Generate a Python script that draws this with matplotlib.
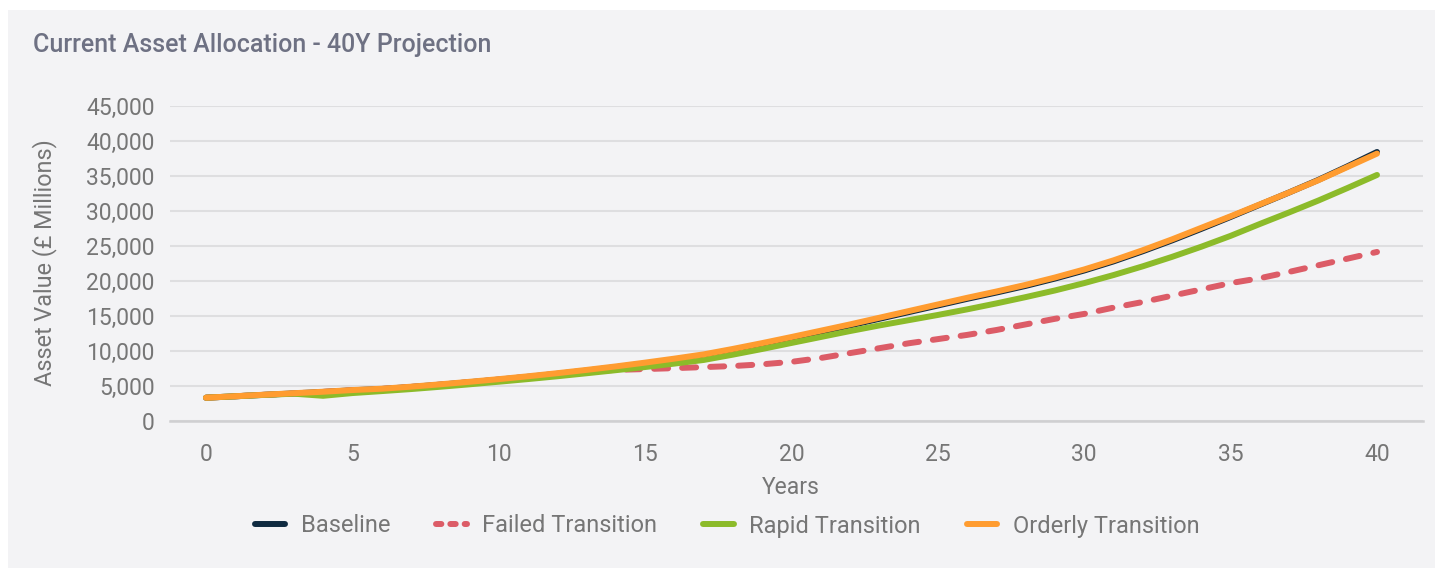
import matplotlib
matplotlib.use("Agg")
import matplotlib.pyplot as plt
from matplotlib.lines import Line2D
from matplotlib.patches import Rectangle
from matplotlib.ticker import FuncFormatter, MultipleLocator

plt.rcParams["font.family"] = ["Roboto", "DejaVu Sans"]

# Projection horizon (years) and asset values (£ millions) per scenario
years = list(range(41))

baseline = [3330, 3530, 3740, 3940, 4150, 4390, 4570, 4860, 5190, 5540,
            5910, 6310, 6740, 7200, 7690, 8210, 8770, 9370, 10150, 10980,
            11850, 12750, 13650, 14600, 15550, 16500, 17450, 18350, 19300, 20350,
            21500, 22800, 24250, 25800, 27450, 29150, 30900, 32650, 34450, 36400,
            38430]

failed = [3330, 3530, 3740, 3940, 4150, 4390, 4570, 4860, 5190, 5540,
          5910, 6310, 6740, 7100, 7300, 7420, 7550, 7700, 7850, 8100,
          8450, 9000, 9700, 10400, 11100, 11700, 12300, 13000, 13800, 14600,
          15300, 16200, 17000, 17900, 18800, 19700, 20400, 21300, 22250, 23200,
          24150]

rapid = [3330, 3530, 3730, 3900, 3600, 3990, 4270, 4560, 4890, 5240,
         5610, 5990, 6390, 6820, 7260, 7710, 8200, 8720, 9480, 10290,
         11150, 12000, 12850, 13650, 14400, 15150, 15950, 16800, 17700, 18650,
         19700, 20850, 22100, 23450, 24900, 26450, 28150, 29800, 31500, 33300,
         35150]

orderly = [3330, 3540, 3760, 3970, 4180, 4420, 4610, 4900, 5240, 5600,
           5980, 6390, 6830, 7300, 7800, 8340, 8910, 9520, 10300, 11130,
           12000, 12900, 13800, 14750, 15700, 16650, 17600, 18500, 19450, 20500,
           21650, 22950, 24400, 25950, 27600, 29250, 30950, 32650, 34400, 36300,
           38200]

series_names = ["Baseline", "Failed Transition", "Rapid Transition", "Orderly Transition"]
series_colors = ["#0f2a40", "#dc5c67", "#8cbb2a", "#ff9c30"]

title = "Current Asset Allocation - 40Y Projection"
x_label = "Years"
y_label = "Asset Value (£ Millions)"

W, H = 1435, 568
fig = plt.figure(figsize=(W / 100, H / 100), dpi=100)
fig.patch.set_facecolor("white")

# light card behind the chart
fig.patches.append(Rectangle((8 / W, 0), 1 - 8 / W, 1 - 10 / H,
                             transform=fig.transFigure, facecolor="#f3f3f5",
                             edgecolor="none", zorder=-10))

ax = fig.add_axes([170 / W, (H - 421) / H, (1423 - 170) / W, (421 - 106) / H])
ax.set_facecolor("none")
ax.set_zorder(2)

lw = 4.3
ax.plot(years, baseline, color=series_colors[0], lw=lw, solid_capstyle="round", zorder=3)
failed_line, = ax.plot(years, failed, color=series_colors[1], lw=lw,
                       dash_capstyle="round", zorder=3)
failed_line.set_dashes([2.35, 2.35])
ax.plot(years, rapid, color=series_colors[2], lw=lw, solid_capstyle="round", zorder=4)
ax.plot(years, orderly, color=series_colors[3], lw=lw, solid_capstyle="round", zorder=5)

ax.set_xlim(-(206 - 170) / 29.275, 40 + (1423 - 1377) / 29.275)
ax.set_ylim(0, 45000)
ax.xaxis.set_major_locator(MultipleLocator(5))
ax.yaxis.set_major_locator(MultipleLocator(5000))
ax.yaxis.set_major_formatter(FuncFormatter(lambda v, p: f"{int(v):,}"))

tick_color = "#767676"
ax.tick_params(axis="both", length=0, labelsize=16.5, labelcolor=tick_color)
ax.tick_params(axis="y", pad=11)
ax.tick_params(axis="x", pad=16)

ax.grid(axis="y", color="#dedee0", lw=1.5, zorder=1)
ax.grid(axis="x", visible=False)
for side in ["left", "right", "top"]:
    ax.spines[side].set_visible(False)
ax.spines["bottom"].set_color("#cfcfd1")
ax.spines["bottom"].set_linewidth(1.8)

fig.text(33 / W, 1 - 52 / H, title, fontsize=18, fontweight=500,
         color="#6e7183", ha="left", va="baseline")
fig.text(45 / W, 1 - 263 / H, y_label, rotation=90, fontsize=16.8,
         color=tick_color, ha="center", va="center")
fig.text(791 / W, 1 - 487 / H, x_label, fontsize=16.5,
         color=tick_color, ha="center", va="center")

handles = [
    Line2D([], [], color=series_colors[0], lw=lw, solid_capstyle="round"),
    Line2D([], [], color=series_colors[1], lw=lw, dash_capstyle="round",
           dashes=[0.9, 1.5]),
    Line2D([], [], color=series_colors[2], lw=lw, solid_capstyle="round"),
    Line2D([], [], color=series_colors[3], lw=lw, solid_capstyle="round"),
]
leg = fig.legend(handles, series_names, loc="center",
                 bbox_to_anchor=(727 / W, 1 - 526 / H), ncol=4, frameon=False,
                 fontsize=17, handlelength=1.3, handletextpad=0.65,
                 columnspacing=1.95, labelcolor=tick_color)

fig.savefig("out.png", dpi=100, facecolor=fig.get_facecolor())
